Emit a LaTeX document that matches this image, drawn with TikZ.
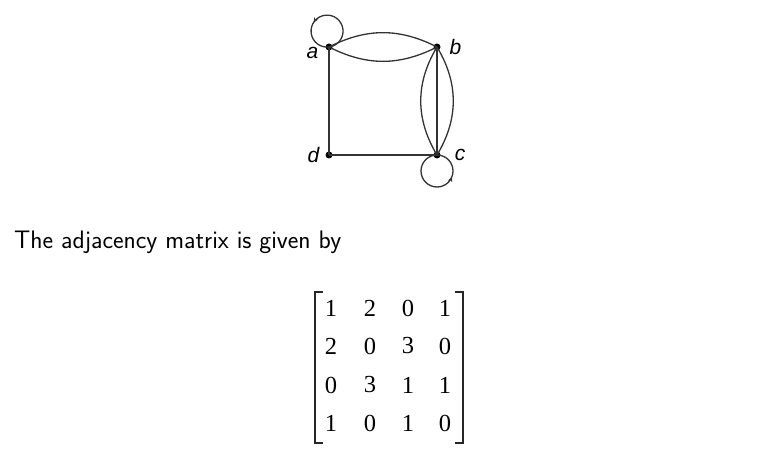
\documentclass[tikz,border=0pt]{standalone}
\usepackage{fontspec}
\newfontfamily\arialit{Liberation Sans}[ItalicFont=* Italic]
\newfontfamily\timesf{Liberation Serif}
\usetikzlibrary{arrows.meta,decorations.markings}
\definecolor{edgecol}{HTML}{333333}
\tikzset{
  vdot/.style={circle,fill=black,inner sep=0pt,minimum size=7pt},
  edge/.style={draw=edgecol,line width=1.3pt},
  vlab/.style={font=\arialit\itshape\fontsize{21}{21}\selectfont,inner sep=0pt},
  entry/.style={font=\timesf\fontsize{24.5}{24.5}\selectfont,inner sep=0pt},
  brack/.style={draw=black!85,line width=1.3pt},
  looparrow/.style={decoration={markings,mark=at position #1 with {\arrow{Stealth[length=5pt,width=4.5pt]}}},postaction=decorate}
}
\begin{document}
\begin{tikzpicture}[x=1pt,y=1pt]
\useasboundingbox (0,0) rectangle (766,453);
% vertices
\node[vdot] (a) at (329,406) {};
\node[vdot] (b) at (437,406) {};
\node[vdot] (c) at (437,298) {};
\node[vdot] (d) at (329,298) {};
% labels
\node[vlab] (la) at (312.5,400.5) {a};
\node[vlab] (lb) at (455.5,406) {b};
\node[vlab] (lc) at (460,298) {c};
\node[vlab] (ld) at (313.5,297.5) {d};
% edges
\draw[edge] (a.center) to[bend left=27] (b.center);
\draw[edge] (a.center) to[bend right=27] (b.center);
\draw[edge] (b.center) -- (c.center);
\draw[edge] (b.center) to[bend left=31] (c.center);
\draw[edge] (b.center) to[bend right=31] (c.center);
\draw[edge] (a.center) -- (d.center);
\draw[edge] (d.center) -- (c.center);
% loops
\draw[edge,looparrow=0.64] (a.center) arc[start angle=-83,end angle=277,radius=16];
\draw[edge,looparrow=0.69] (c.center) arc[start angle=90,end angle=450,radius=16];
% text
\node[anchor=base west,inner sep=0pt,font=\sffamily\fontsize{25.3}{25.3}\selectfont] (txt) at (14,204) {The adjacency matrix is given by};
% matrix entries
\foreach \y [count=\i] in {145,107,68,30}{
  \foreach \x [count=\j] in {331,370,408,445}{
    \coordinate (p-\i-\j) at (\x,\y);
  }
}
\node[entry] (m-1-1) at (p-1-1) {1};
\node[entry] (m-1-2) at (p-1-2) {2};
\node[entry] (m-1-3) at (p-1-3) {0};
\node[entry] (m-1-4) at (p-1-4) {1};
\node[entry] (m-2-1) at (p-2-1) {2};
\node[entry] (m-2-2) at (p-2-2) {0};
\node[entry] (m-2-3) at (p-2-3) {3};
\node[entry] (m-2-4) at (p-2-4) {0};
\node[entry] (m-3-1) at (p-3-1) {0};
\node[entry] (m-3-2) at (p-3-2) {3};
\node[entry] (m-3-3) at (p-3-3) {1};
\node[entry] (m-3-4) at (p-3-4) {1};
\node[entry] (m-4-1) at (p-4-1) {1};
\node[entry] (m-4-2) at (p-4-2) {0};
\node[entry] (m-4-3) at (p-4-3) {1};
\node[entry] (m-4-4) at (p-4-4) {0};
% brackets
\draw[brack] (323,161) -- (315,161) -- (315,10) -- (323,10);
\draw[brack] (455,161) -- (463,161) -- (463,10) -- (455,10);
\end{tikzpicture}
\end{document}
